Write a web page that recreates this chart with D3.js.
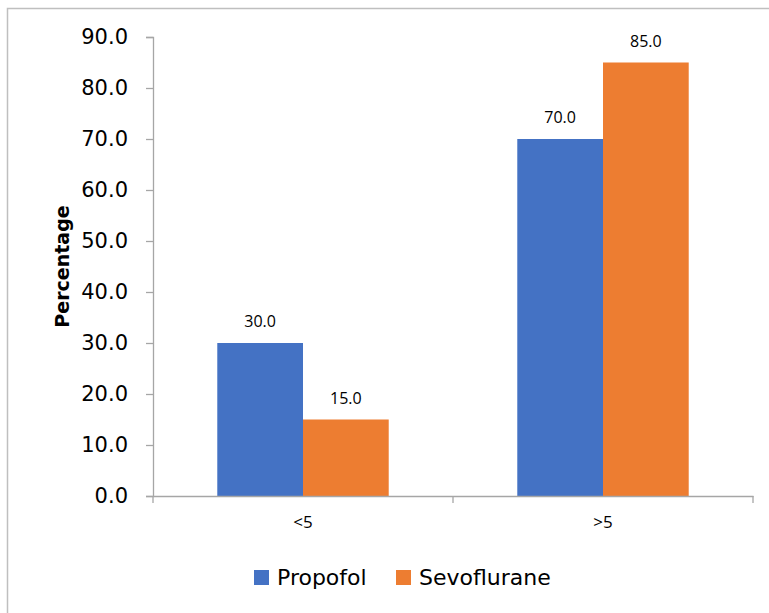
<!DOCTYPE html>
<html>
<head>
<meta charset="utf-8">
<script src="https://cdn.jsdelivr.net/npm/d3@7"></script>
<style>
  html, body { margin: 0; padding: 0; background: #fff; }
  svg { display: block; }
</style>
</head>
<body>
<svg id="chart" width="769" height="613"></svg>
<script>
// Anaesthetic agent vs duration groups (percentage of patients)
const categories = ["<5", ">5"];
const seriesNames = ["Propofol", "Sevoflurane"];
const propofolValues = [30.0, 70.0];
const sevofluraneValues = [15.0, 85.0];
const yTicks = [0, 10, 20, 30, 40, 50, 60, 70, 80, 90];
const colors = ["#4472C4", "#ED7D31"];

const values = [propofolValues, sevofluraneValues];
const font = "'Open Sans', 'DejaVu Sans', sans-serif";
const wideFont = "'DejaVu Sans', sans-serif";

const svg = d3.select("#chart");

// outer frame (top and left edges visible)
svg.append("path")
  .attr("d", "M7.5,613 V8.5 H769")
  .attr("fill", "none")
  .attr("stroke", "#bfbfbf")
  .attr("stroke-width", 1.5);

const plotLeft = 153, plotRight = 753, plotTop = 37, plotBottom = 496;

const x0 = d3.scaleBand().domain(categories).range([plotLeft, plotRight]);
const x1 = d3.scaleBand().domain(seriesNames).range([0, x0.bandwidth()]).paddingInner(0).paddingOuter(0.75);
const y = d3.scaleLinear().domain([0, 90]).range([plotBottom, plotTop]);

// y axis
const yAxis = svg.append("g")
  .attr("transform", `translate(${plotLeft},0)`)
  .call(d3.axisLeft(y).tickValues(yTicks).tickFormat(d3.format(".1f")).tickSize(7).tickPadding(18));
yAxis.select(".domain").attr("stroke", "#a6a6a6").attr("stroke-width", 1.3);
yAxis.selectAll(".tick line").attr("stroke", "#a6a6a6").attr("stroke-width", 1.3);
yAxis.selectAll(".tick text")
  .attr("font-family", wideFont).attr("font-size", 21).attr("fill", "#000");

// bars
const groups = svg.append("g").selectAll("g")
  .data(categories)
  .join("g")
  .attr("transform", d => `translate(${x0(d)},0)`);

groups.selectAll("rect")
  .data((c, i) => seriesNames.map((s, k) => ({ s, k, v: values[k][i] })))
  .join("rect")
  .attr("x", d => x1(d.s))
  .attr("width", x1.bandwidth())
  .attr("y", d => y(d.v))
  .attr("height", d => y(0) - y(d.v))
  .attr("fill", d => colors[d.k]);

groups.selectAll("text.val")
  .data((c, i) => seriesNames.map((s, k) => ({ s, k, v: values[k][i] })))
  .join("text")
  .attr("class", "val")
  .attr("x", d => x1(d.s) + x1.bandwidth() / 2)
  .attr("y", d => y(d.v) - 16)
  .attr("text-anchor", "middle")
  .attr("font-family", font)
  .attr("font-size", 16)
  .attr("fill", "#000")
  .text(d => d3.format(".1f")(d.v));

// x axis
const xAxis = svg.append("g")
  .attr("transform", `translate(0,${plotBottom})`)
  .call(d3.axisBottom(x0).tickSize(0).tickPadding(20));
xAxis.select(".domain").attr("stroke", "#a6a6a6").attr("stroke-width", 1.3);
xAxis.selectAll(".tick text")
  .attr("font-family", font).attr("font-size", 17).attr("fill", "#000");
// category boundary ticks
xAxis.selectAll("line.sep")
  .data([plotLeft, plotLeft + x0.bandwidth(), plotRight])
  .join("line")
  .attr("class", "sep")
  .attr("x1", d => d).attr("x2", d => d)
  .attr("y1", 0).attr("y2", 7)
  .attr("stroke", "#a6a6a6").attr("stroke-width", 1.3);

// y axis title
svg.append("text")
  .attr("transform", `translate(69,${(plotTop + plotBottom) / 2}) rotate(-90)`)
  .attr("text-anchor", "middle")
  .attr("font-family", wideFont)
  .attr("font-size", 19)
  .attr("font-weight", "bold")
  .attr("fill", "#000")
  .text("Percentage");

// legend
const legendItems = [{ name: "Propofol", x: 254 }, { name: "Sevoflurane", x: 396 }];
const lg = svg.append("g").selectAll("g")
  .data(legendItems)
  .join("g")
  .attr("transform", d => `translate(${d.x},570)`);
lg.append("rect").attr("width", 15).attr("height", 15)
  .attr("fill", (d, i) => colors[i]);
lg.append("text")
  .attr("x", 23).attr("y", 14.5)
  .attr("font-family", wideFont).attr("font-size", 22).attr("fill", "#000")
  .text(d => d.name);
</script>
</body>
</html>
